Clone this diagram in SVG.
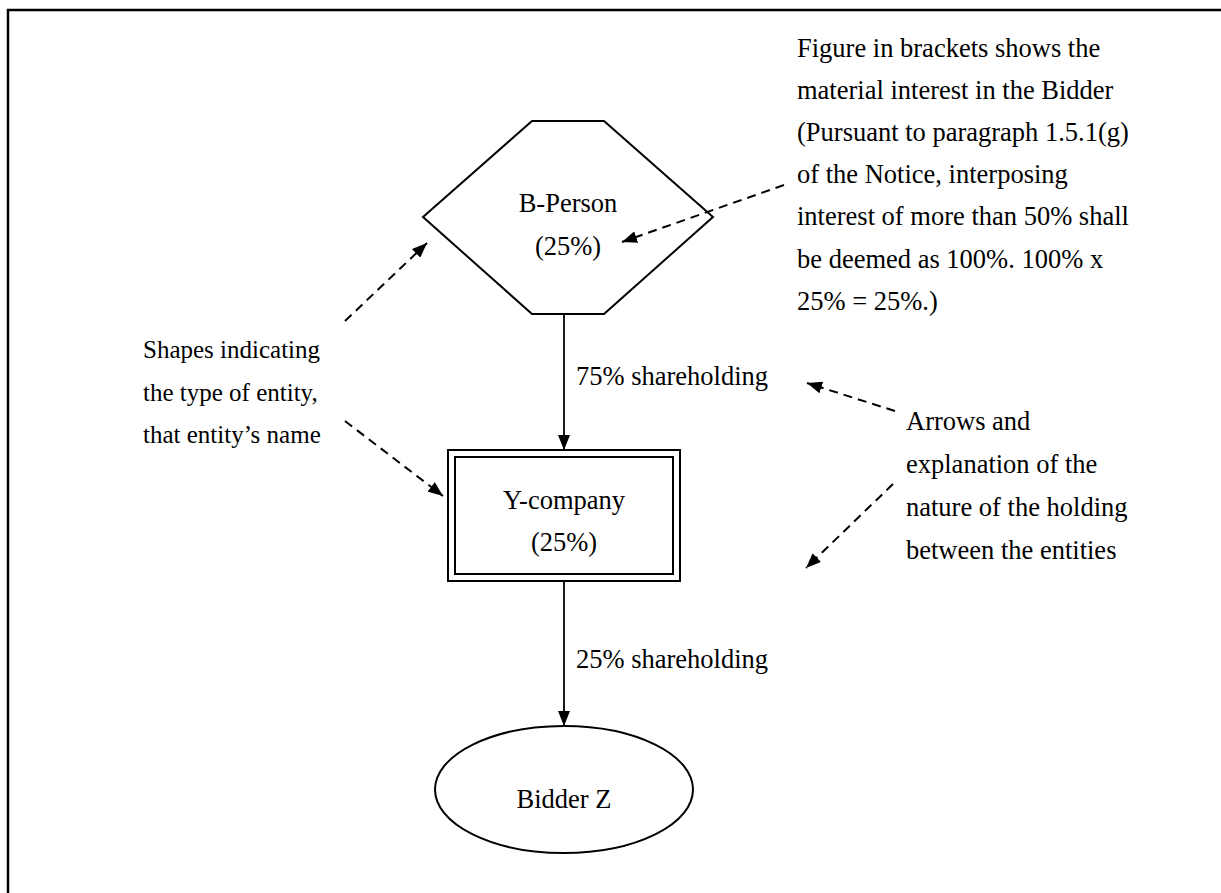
<svg xmlns="http://www.w3.org/2000/svg" width="1221" height="893" viewBox="0 0 1221 893">
<defs>
<style>
.t{font-family:"Liberation Serif","Times New Roman",serif;font-size:26.5px;fill:#000}
.l{font-family:"Liberation Serif","Times New Roman",serif;font-size:25px;fill:#000}
.n{font-family:"Liberation Serif","Times New Roman",serif;font-size:26.5px;fill:#000;text-anchor:middle}
.shape{fill:#fff;stroke:#000;stroke-width:2}
.conn{stroke:#000;stroke-width:1.8;fill:none}
.dash{stroke:#000;stroke-width:2;fill:none;stroke-dasharray:9 6}
</style>
<marker id="ah" viewBox="0 0 15 12" refX="15" refY="6" markerWidth="15" markerHeight="12" markerUnits="userSpaceOnUse" orient="auto">
<path d="M0,0 L15,6 L0,12 Z" fill="#000"/>
</marker>
</defs>
<rect width="1221" height="893" fill="#fff"/>
<path d="M8,893 L8,10 L1221,10" fill="none" stroke="#000" stroke-width="2.5"/>

<g id="b-person">
<polygon class="shape" points="532,121 604,121 713,217 604,314 532,314 423,217"/>
<text class="n" x="568" y="212">B-Person</text>
<text class="n" x="568" y="255">(25%)</text>
</g>

<g id="y-company">
<rect class="shape" x="448" y="450" width="232" height="131" stroke-width="2.5"/>
<rect class="shape" x="455" y="457" width="218" height="117"/>
<text class="n" x="564" y="509">Y-company</text>
<text class="n" x="564" y="551">(25%)</text>
</g>

<g id="bidder-z">
<ellipse class="shape" cx="564" cy="789.5" rx="129" ry="63.5"/>
<text class="n" x="564" y="808">Bidder Z</text>
</g>

<g id="connectors">
<line class="conn" x1="564" y1="314" x2="564" y2="450" marker-end="url(#ah)"/>
<line class="conn" x1="564" y1="581" x2="564" y2="726" marker-end="url(#ah)"/>
<line class="dash" x1="345" y1="321" x2="427" y2="243" marker-end="url(#ah)"/>
<line class="dash" x1="345" y1="421" x2="443" y2="496" marker-end="url(#ah)"/>
<line class="dash" x1="784" y1="185" x2="622" y2="242" marker-end="url(#ah)"/>
<line class="dash" x1="895" y1="411" x2="807" y2="383" marker-end="url(#ah)"/>
<line class="dash" x1="893" y1="484" x2="806" y2="568" marker-end="url(#ah)"/>
</g>

<g id="labels">
<text class="t" x="576" y="385">75% shareholding</text>
<text class="t" x="576" y="668">25% shareholding</text>
</g>

<g id="note-figure">
<text class="t" x="797" y="57">Figure in brackets shows the</text>
<text class="t" x="797" y="99">material interest in the Bidder</text>
<text class="t" x="797" y="141">(Pursuant to paragraph 1.5.1(g)</text>
<text class="t" x="797" y="183">of the Notice, interposing</text>
<text class="t" x="797" y="225">interest of more than 50% shall</text>
<text class="t" x="797" y="268">be deemed as 100%. 100% x</text>
<text class="t" x="797" y="310">25% = 25%.)</text>
</g>

<g id="note-shapes">
<text class="l" x="143" y="358">Shapes indicating</text>
<text class="l" x="143" y="401">the type of entity,</text>
<text class="l" x="143" y="443">that entity’s name</text>
</g>

<g id="note-arrows">
<text class="t" x="906" y="430">Arrows and</text>
<text class="t" x="906" y="473">explanation of the</text>
<text class="t" x="906" y="516">nature of the holding</text>
<text class="t" x="906" y="559">between the entities</text>
</g>
</svg>
